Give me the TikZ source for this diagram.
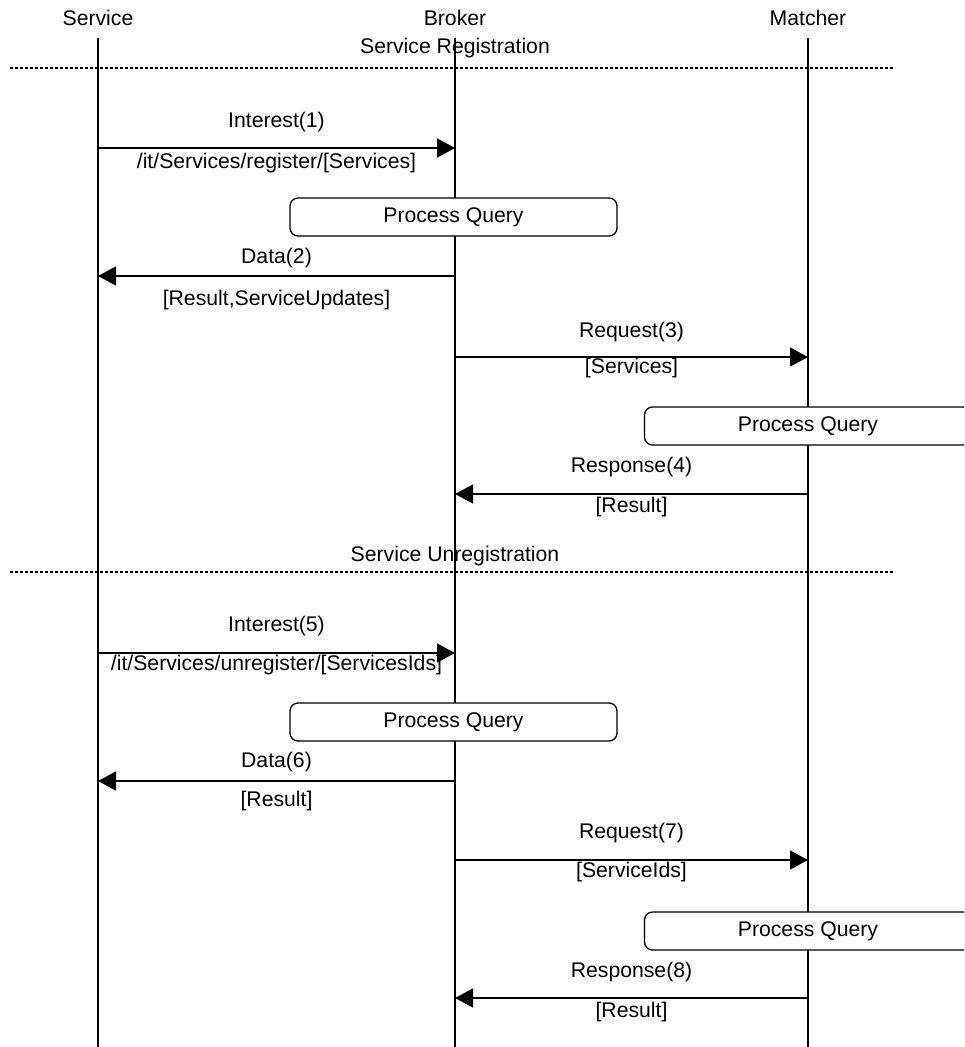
\documentclass[tikz,border=0pt]{standalone}
\usepackage{fontspec}
\setmainfont{Liberation Sans}
\usetikzlibrary{arrows.meta}

\begin{document}
\begin{tikzpicture}[x=1pt,y=-1pt,
    font=\fontsize{21.2}{25}\selectfont,
    lifeline/.style={line width=1.3pt},
    msg/.style={line width=1.3pt, -{Triangle[length=18pt,width=19pt]}},
    sepline/.style={line width=1.1pt, dash pattern=on 3pt off 2pt},
    procbox/.style={draw, line width=1.3pt, fill=white, rounded corners=8pt, minimum width=327pt, minimum height=38pt, inner sep=0pt},
    ]
    \useasboundingbox (0,0) rectangle (964,1047);
    \clip (0,0) rectangle (964,1047);

    % actors and lifelines
    \node (srv) at (98,18) {Service};
    \node (brk) at (455,18) {Broker};
    \node (mat) at (808,18) {Matcher};
    \coordinate (srvTop) at (98,38);  \coordinate (srvEnd) at (98,1047);
    \coordinate (brkTop) at (455,38); \coordinate (brkEnd) at (455,1047);
    \coordinate (matTop) at (808,38); \coordinate (matEnd) at (808,1047);
    \draw[lifeline] (srvTop) -- (srvEnd);
    \draw[lifeline] (brkTop) -- (brkEnd);
    \draw[lifeline] (matTop) -- (matEnd);

    % sections
    \node (reg) at (455,48) {Service Registration};
    \coordinate (regL) at (10,68); \coordinate (regR) at (895,68);
    \draw[sepline] (regL) -- (regR);
    \node (unreg) at (455,556) {Service Unregistration};
    \coordinate (unregL) at (10,572); \coordinate (unregR) at (895,572);
    \draw[sepline] (unregL) -- (unregR);

    % registration
    \coordinate (s1) at (98,148);  \coordinate (b1) at (455,148);
    \draw[msg] (s1) -- node[yshift=26pt] {Interest(1)} node[yshift=-15pt] {/it/Services/register/[Services]} (b1);
    \node[procbox] (pq1) at (453.5,217) {Process Query};
    \coordinate (b2) at (455,276); \coordinate (s2) at (98,276);
    \draw[msg] (b2) -- node[yshift=18pt] {Data(2)} node[yshift=-24pt] {[Result,ServiceUpdates]} (s2);
    \coordinate (b3) at (455,357); \coordinate (m3) at (808,357);
    \draw[msg] (b3) -- node[yshift=25pt] {Request(3)} node[yshift=-11pt] {[Services]} (m3);
    \node[procbox] (pq2) at (808,426) {Process Query};
    \coordinate (m4) at (808,494); \coordinate (b4) at (455,494);
    \draw[msg] (m4) -- node[yshift=27pt] {Response(4)} node[yshift=-13pt] {[Result]} (b4);

    % unregistration
    \coordinate (s5) at (98,653);  \coordinate (b5) at (455,653);
    \draw[msg] (s5) -- node[yshift=27pt] {Interest(5)} node[yshift=-12pt] {/it/Services/unregister/[ServicesIds]} (b5);
    \node[procbox] (pq3) at (453.5,722) {Process Query};
    \coordinate (b6) at (455,781); \coordinate (s6) at (98,781);
    \draw[msg] (b6) -- node[yshift=19pt] {Data(6)} node[yshift=-20pt] {[Result]} (s6);
    \coordinate (b7) at (455,860); \coordinate (m7) at (808,860);
    \draw[msg] (b7) -- node[yshift=27pt] {Request(7)} node[yshift=-12pt] {[ServiceIds]} (m7);
    \node[procbox] (pq4) at (808,931) {Process Query};
    \coordinate (m8) at (808,998); \coordinate (b8) at (455,998);
    \draw[msg] (m8) -- node[yshift=26pt] {Response(8)} node[yshift=-14pt] {[Result]} (b8);
\end{tikzpicture}
\end{document}
